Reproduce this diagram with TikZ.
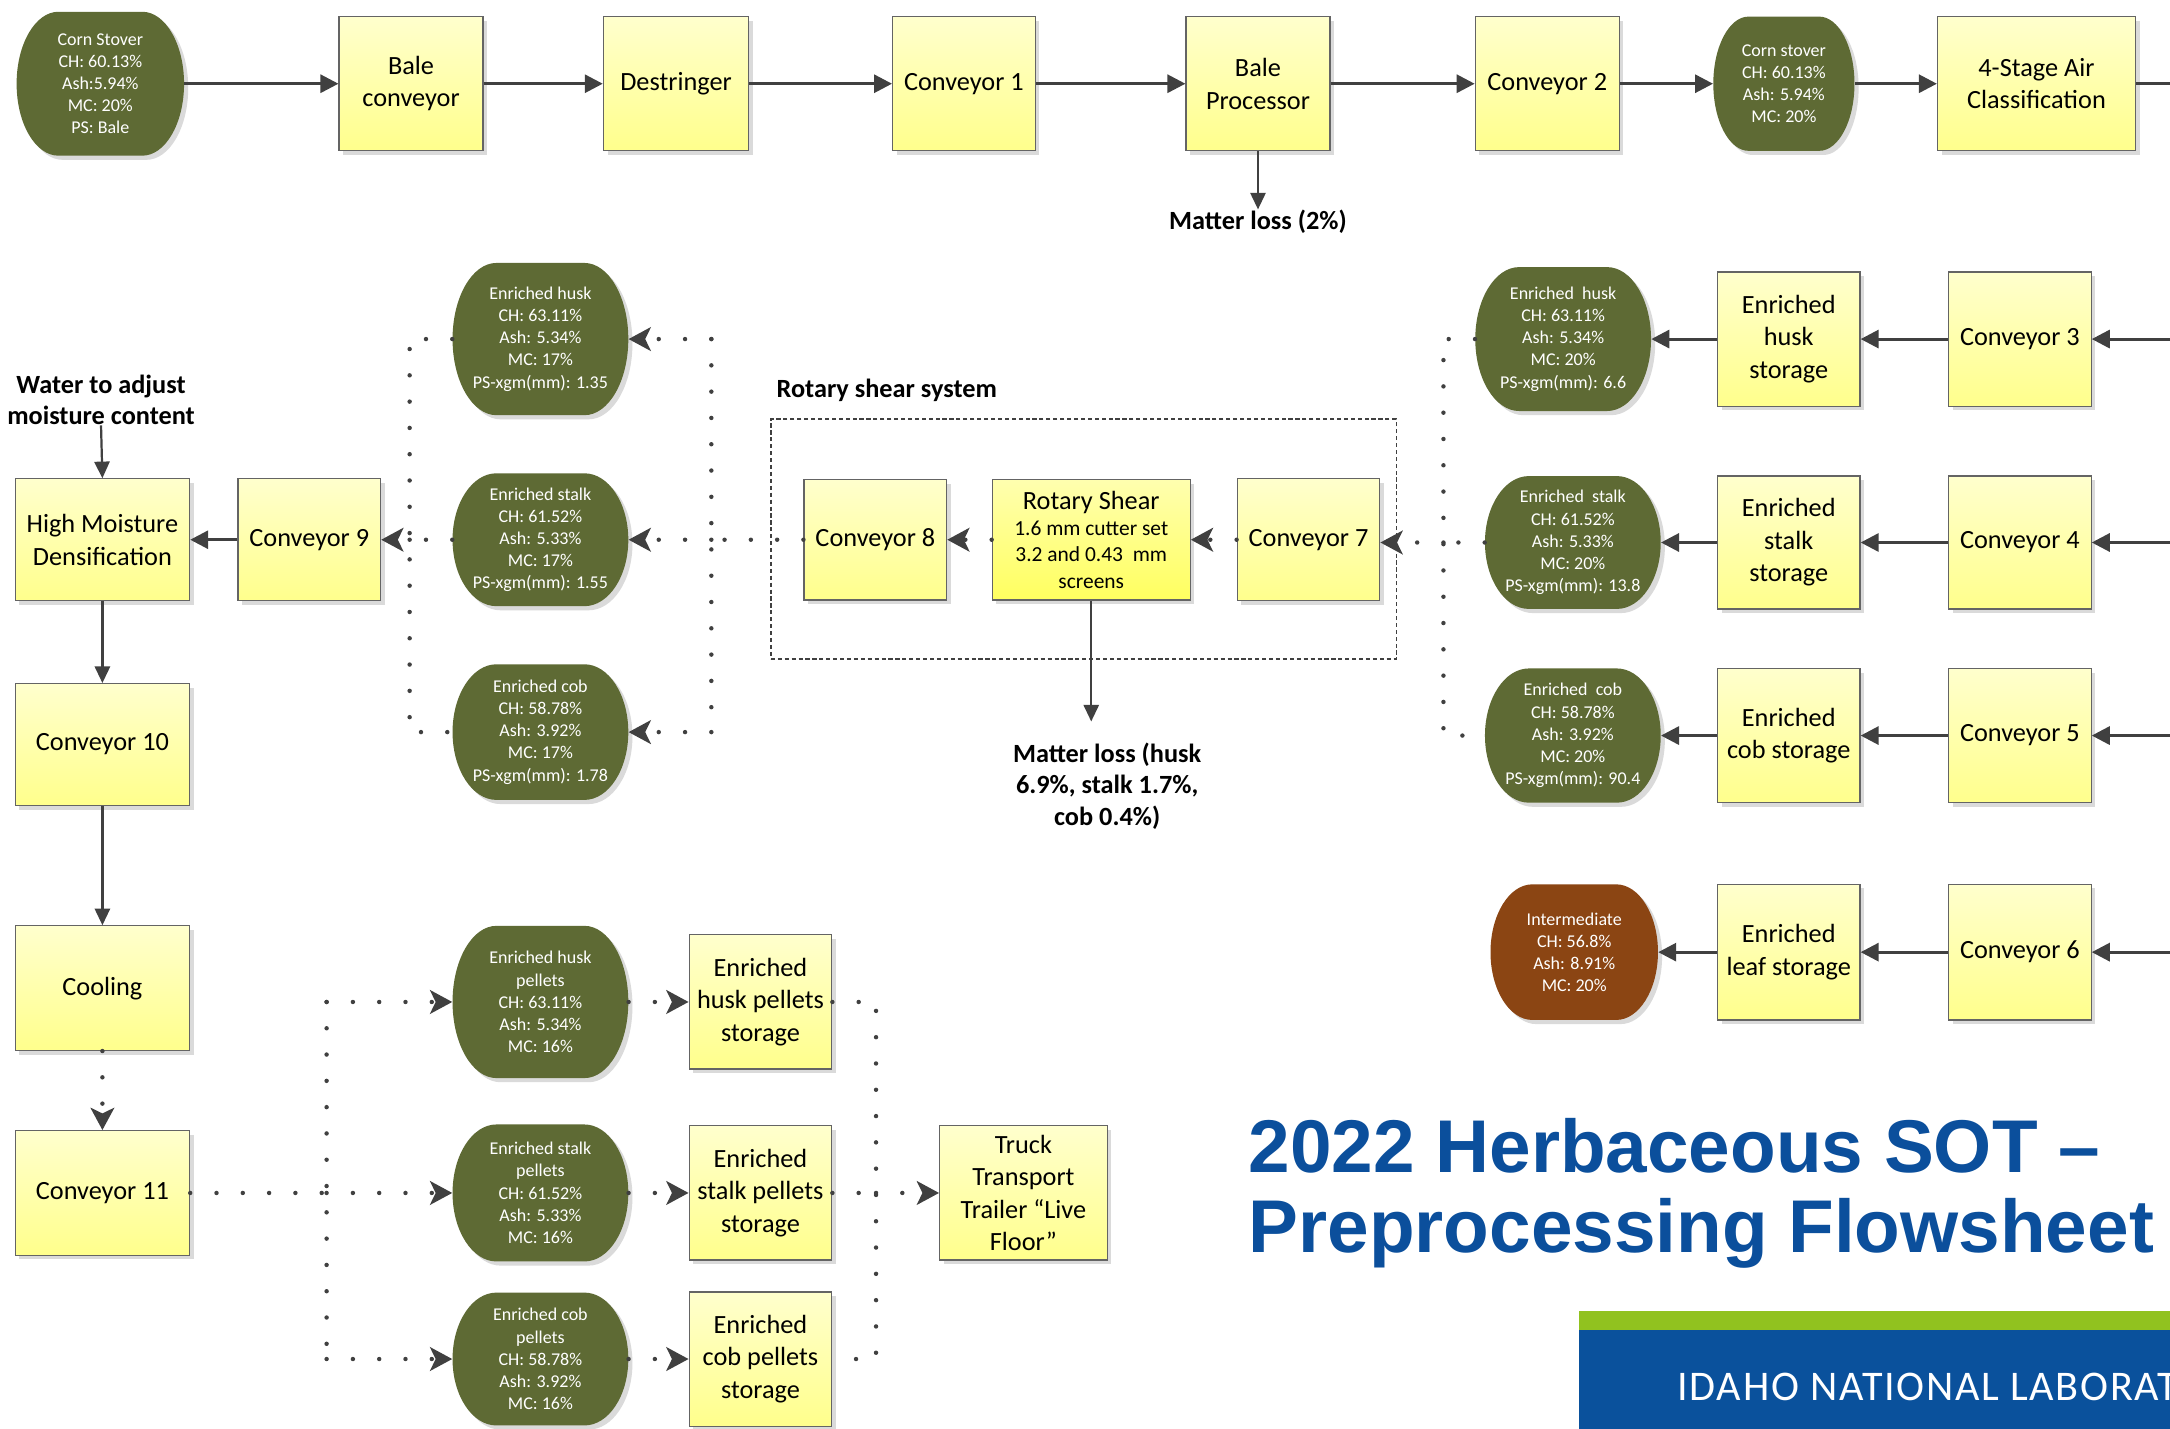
\documentclass[tikz,border=0pt]{standalone}
\usepackage{fontspec}
\setmainfont{Carlito}
\newfontfamily\titlefont{Liberation Sans}
\newfontfamily\inlfont[LetterSpace=4]{Carlito}
\usetikzlibrary{arrows.meta,shadows}
\definecolor{olivec}{RGB}{94,106,52}
\definecolor{brownc}{RGB}{139,69,19}
\definecolor{arrowc}{RGB}{64,64,64}
\definecolor{boxline}{RGB}{100,100,100}
\definecolor{boxtop}{RGB}{255,255,205}
\definecolor{boxbot}{RGB}{255,255,140}
\definecolor{rstop}{RGB}{255,255,175}
\definecolor{rsbot}{RGB}{255,255,95}
\definecolor{titleblue}{RGB}{11,79,156}
\definecolor{inlblue}{RGB}{10,81,156}
\definecolor{inlgreen}{RGB}{145,194,31}
\definecolor{shadowc}{RGB}{218,218,218}

\newcommand\streamnode[7]{%
  \fill[shadowc] ({#2+3-#4/4},{#3-3+#5/2}) -- ({#2+3+#4/4},{#3-3+#5/2})
     arc[start angle=90,end angle=-90,x radius={#4/4},y radius={#5/2}]
     -- ({#2+3-#4/4},{#3-3-#5/2})
     arc[start angle=270,end angle=90,x radius={#4/4},y radius={#5/2}] -- cycle;
  \fill[#6] ({#2-#4/4},{#3+#5/2}) -- ({#2+#4/4},{#3+#5/2})
     arc[start angle=90,end angle=-90,x radius={#4/4},y radius={#5/2}]
     -- ({#2-#4/4},{#3-#5/2})
     arc[start angle=270,end angle=90,x radius={#4/4},y radius={#5/2}] -- cycle;
  \node[streamtext, minimum width=#4pt, minimum height=#5pt] (#1) at (#2,#3) {#7};
}

\begin{document}
\begin{tikzpicture}[x=1pt,y=1pt,
  box/.style={draw=boxline, line width=0.9pt, top color=boxtop, bottom color=boxbot,
    align=center, inner sep=1pt, font=\fontsize{19}{23.5}\selectfont,
    drop shadow={shadow xshift=3pt, shadow yshift=-3pt, fill=shadowc, opacity=1}},
  streamtext/.style={align=center, text=white, inner sep=0pt, font=\fontsize{13}{16}\selectfont},
  flow/.style={draw=arrowc, line width=2.2pt, -{Triangle[length=13pt,width=13pt]}},
  thinflow/.style={draw=arrowc, line width=1.6pt, -{Triangle[length=12pt,width=11pt]}},
  plain/.style={draw=arrowc, line width=2.2pt},
  dots/.style={draw=arrowc, line width=3.2pt, line cap=round, dash pattern=on 0pt off 19pt},
  dotflow/.style={dots, -{Stealth[length=16pt,width=17pt,inset=4pt]}},
  lbl/.style={font=\fontsize{19}{23}\selectfont\bfseries, align=center, inner sep=0pt},
]
\useasboundingbox (0,0) rectangle (1568,-1032);
\clip (0,0) rectangle (1568,-1032);
\fill[white] (0,0) rectangle (1568,-1032);

% ---------------- top row
\streamnode{cs1}{72.5}{-60.5}{121}{104}{olivec}{Corn Stover\\CH: 60.13\%\\Ash:5.94\%\\MC: 20\%\\PS: Bale}
\node[box, minimum width=104pt, minimum height=97pt] (bc) at (297,-60.5) {Bale\\conveyor};
\node[box, minimum width=105pt, minimum height=97pt] (ds) at (488.5,-60.5) {Destringer};
\node[box, minimum width=103pt, minimum height=97pt] (c1) at (696.5,-60.5) {Conveyor 1};
\node[box, minimum width=104pt, minimum height=97pt] (bp) at (909,-60.5) {Bale\\Processor};
\node[box, minimum width=104pt, minimum height=97pt] (c2) at (1118,-60.5) {Conveyor 2};
\streamnode{cs2}{1289}{-60.5}{102}{97}{olivec}{Corn stover\\CH: 60.13\%\\Ash: 5.94\%\\MC: 20\%}
\node[box, minimum width=143pt, minimum height=97pt] (ac) at (1471.5,-60.5) {4-Stage Air\\Classification};
\coordinate (e0) at (1575,-60.5);

\draw[flow] (cs1.east) -- (bc.west);
\draw[flow] (bc.east) -- (ds.west);
\draw[flow] (ds.east) -- (c1.west);
\draw[flow] (c1.east) -- (bp.west);
\draw[flow] (bp.east) -- (c2.west);
\draw[flow] (c2.east) -- (cs2.west);
\draw[flow] (cs2.east) -- (ac.west);
\draw[plain] (ac.east) -- (e0);

\node[lbl] (ml1) at (909,-160) {Matter loss (2\%)};
\draw[thinflow] (bp.south) -- (ml1.north);

% ---------------- left column
\node[lbl] (water) at (73,-289) {Water to adjust\\moisture content};
\node[box, minimum width=126pt, minimum height=88pt] (hmd) at (74,-390) {High Moisture\\Densification};
\node[box, minimum width=103pt, minimum height=88pt] (c9) at (223.5,-390) {Conveyor 9};
\node[box, minimum width=126pt, minimum height=88pt] (c10) at (74,-538) {Conveyor 10};
\node[box, minimum width=126pt, minimum height=90pt] (cool) at (74,-714) {Cooling};
\node[box, minimum width=126pt, minimum height=90pt] (c11) at (74,-862) {Conveyor 11};

\draw[thinflow] (water.south) -- (hmd.north);
\draw[flow] (c9.west) -- (hmd.east);
\draw[thinflow] (hmd.south) -- (c10.north);
\draw[thinflow] (c10.south) -- (cool.north);
\draw[dotflow] (cool.south) -- (c11.north);

% ---------------- left streams (after rotary shear)
\streamnode{lh}{390.5}{-245}{127}{110}{olivec}{Enriched husk\\CH: 63.11\%\\Ash: 5.34\%\\MC: 17\%\\PS-xgm(mm): 1.35}
\streamnode{ls}{390.5}{-390}{127}{96}{olivec}{Enriched stalk\\CH: 61.52\%\\Ash: 5.33\%\\MC: 17\%\\PS-xgm(mm): 1.55}
\streamnode{lc}{390.5}{-529}{127}{98}{olivec}{Enriched cob\\CH: 58.78\%\\Ash: 3.92\%\\MC: 17\%\\PS-xgm(mm): 1.78}
\coordinate (jL) at (296,-390);
\coordinate (jM) at (514,-390);

% ---------------- rotary shear system
\node[lbl, anchor=west] (rsl) at (561,-282) {Rotary shear system};
\node[draw=arrowc, dash pattern=on 3pt off 2pt, line width=1.3pt, minimum width=452pt,
      minimum height=173pt, inner sep=0pt] (rsys) at (783,-389.5) {};
\node[box, minimum width=103pt, minimum height=87pt] (c8) at (632.5,-390) {Conveyor 8};
\node[box, top color=rstop, bottom color=rsbot, minimum width=143pt, minimum height=87pt,
      font=\fontsize{15.5}{19}\selectfont] (rsh) at (788.5,-390)
      {{\fontsize{19}{19}\selectfont Rotary Shear}\\1.6 mm cutter set\\3.2 and 0.43\ \ mm\\screens};
\node[box, minimum width=103pt, minimum height=88pt] (c7) at (945.5,-390) {Conveyor 7};
\node[lbl] (ml2) at (800,-568) {Matter loss (husk\\6.9\%, stalk 1.7\%,\\cob 0.4\%)};

\draw[dotflow] (c7.west) -- (rsh.east);
\draw[dotflow] (rsh.west) -- (c8.east);
\draw[thinflow, shorten >=15pt] (rsh.south) -- (rsh.south |- ml2.north);

\draw[dots] (c8.west) -- (jM);
\draw[dots] (jM |- lh.east) -- (jM |- lc.east);
\draw[dotflow] (jM |- lh.east) -- (lh.east);
\draw[dotflow] (jM) -- (ls.east);
\draw[dotflow] (jM |- lc.east) -- (lc.east);

\draw[dots] (lh.west) -- (lh.west -| jL) -- (jL |- lc.west) -- (lc.west);
\draw[dots] (ls.west) -- (jL);
\draw[dotflow] (jL) -- (c9.east);

% ---------------- right group
\streamnode{rh}{1129.5}{-245}{127}{104}{olivec}{Enriched~~husk\\CH: 63.11\%\\Ash: 5.34\%\\MC: 20\%\\PS-xgm(mm): 6.6}
\streamnode{rs}{1136.5}{-392}{127}{96}{olivec}{Enriched~~stalk\\CH: 61.52\%\\Ash: 5.33\%\\MC: 20\%\\PS-xgm(mm): 13.8}
\streamnode{rc}{1136.5}{-531.5}{127}{97}{olivec}{Enriched~~cob\\CH: 58.78\%\\Ash: 3.92\%\\MC: 20\%\\PS-xgm(mm): 90.4}
\streamnode{imd}{1137.5}{-688}{121}{98}{brownc}{Intermediate\\CH: 56.8\%\\Ash: 8.91\%\\MC: 20\%}

\node[box, minimum width=103pt, minimum height=97pt] (hs) at (1292.5,-245) {Enriched\\husk\\storage};
\node[box, minimum width=103pt, minimum height=96pt] (ss) at (1292.5,-392) {Enriched\\stalk\\storage};
\node[box, minimum width=103pt, minimum height=97pt] (cs) at (1292.5,-531.5) {Enriched\\cob storage};
\node[box, minimum width=103pt, minimum height=98pt] (lfs) at (1292.5,-688) {Enriched\\leaf storage};

\node[box, minimum width=103pt, minimum height=97pt] (c3) at (1459.5,-245) {Conveyor 3};
\node[box, minimum width=103pt, minimum height=96pt] (c4) at (1459.5,-392) {Conveyor 4};
\node[box, minimum width=103pt, minimum height=97pt] (c5) at (1459.5,-531.5) {Conveyor 5};
\node[box, minimum width=103pt, minimum height=98pt] (c6) at (1459.5,-688) {Conveyor 6};

\coordinate (e3) at (1575,-245);
\coordinate (e4) at (1575,-392);
\coordinate (e5) at (1575,-531.5);
\coordinate (e6) at (1575,-688);

\draw[flow] (e3) -- (c3.east);
\draw[flow] (e4) -- (c4.east);
\draw[flow] (e5) -- (c5.east);
\draw[flow] (e6) -- (c6.east);
\draw[flow] (c3.west) -- (hs.east);
\draw[flow] (c4.west) -- (ss.east);
\draw[flow] (c5.west) -- (cs.east);
\draw[flow] (c6.west) -- (lfs.east);
\draw[flow] (hs.west) -- (rh.east);
\draw[flow] (ss.west) -- (rs.east);
\draw[flow] (cs.west) -- (rc.east);
\draw[flow] (lfs.west) -- (imd.east);

\coordinate (jR) at (1043,-392);
\draw[dots] (rh.west) -- (rh.west -| jR) -- (jR |- rc.west) -- (rc.west);
\draw[dots] (rs.west) -- (jR);
\draw[dotflow] (jR) -- (jR -| c7.east);

% ---------------- pellets
\streamnode{ph}{390.5}{-724}{127}{110}{olivec}{Enriched husk\\pellets\\CH: 63.11\%\\Ash: 5.34\%\\MC: 16\%}
\streamnode{ps}{390.5}{-862}{127}{99}{olivec}{Enriched stalk\\pellets\\CH: 61.52\%\\Ash: 5.33\%\\MC: 16\%}
\streamnode{pc}{390.5}{-982}{127}{96}{olivec}{Enriched cob\\pellets\\CH: 58.78\%\\Ash: 3.92\%\\MC: 16\%}

\node[box, minimum width=103pt, minimum height=97pt] (phs) at (549.5,-724) {Enriched\\husk pellets\\storage};
\node[box, minimum width=103pt, minimum height=97pt] (pss) at (549.5,-862) {Enriched\\stalk pellets\\storage};
\node[box, minimum width=103pt, minimum height=97pt] (pcs) at (549.5,-982) {Enriched\\cob pellets\\storage};
\node[box, minimum width=121pt, minimum height=97pt] (truck) at (739.5,-862) {Truck\\Transport\\Trailer “Live\\Floor”};

\coordinate (jP) at (236,-862);
\coordinate (jT) at (633,-862);
\draw[dots] (c11.east) -- (jP);
\draw[dots] (jP |- ph.west) -- (jP |- pc.west);
\draw[dotflow] (jP |- ph.west) -- (ph.west);
\draw[dotflow] (jP) -- (ps.west);
\draw[dotflow] (jP |- pc.west) -- (pc.west);

\draw[dotflow] (ph.east) -- (phs.west);
\draw[dotflow] (ps.east) -- (pss.west);
\draw[dotflow] (pc.east) -- (pcs.west);

\draw[dots] (phs.east) -- (phs.east -| jT) -- (jT |- pcs.east) -- (pcs.east);
\draw[dots] (pss.east) -- (jT);
\draw[dotflow] (jT) -- (truck.west);

% ---------------- title and banner
\node[anchor=base west, inner sep=0pt, text=titleblue,
      font=\titlefont\bfseries\fontsize{54}{58}\selectfont] (t1) at (902,-847) {2022 Herbaceous SOT –};
\node[anchor=base west, inner sep=0pt, text=titleblue,
      font=\titlefont\bfseries\fontsize{54}{58}\selectfont] (t2) at (902,-905) {Preprocessing Flowsheet};

\fill[inlgreen] (1141,-947) rectangle (1575,-961);
\fill[inlblue] (1141,-961) rectangle (1575,-1036);
\node[anchor=base west, inner sep=0pt, text=white, font=\inlfont\fontsize{30.5}{32}\selectfont] (inl) at (1212,-1012) {IDAHO NATIONAL LABORAT};
\end{tikzpicture}
\end{document}
